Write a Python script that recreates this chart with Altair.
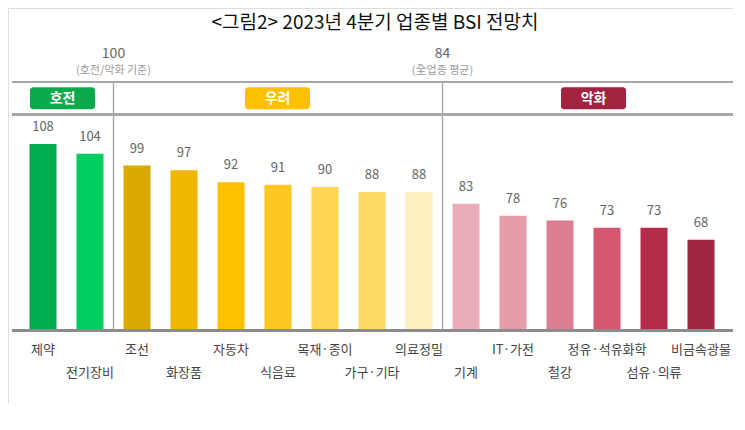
import altair as alt
import pandas as pd

categories = ["제약", "전기장비", "조선", "화장품", "자동차", "식음료", "목재·종이",
              "가구·기타", "의료정밀", "기계", "IT·가전", "철강", "정유·석유화학",
              "섬유·의류", "비금속광물"]
values = [108, 104, 99, 97, 92, 91, 90, 88, 88, 83, 78, 76, 73, 73, 68]
bar_colors = ["#00ac50", "#00cf60", "#dca900", "#f0b800", "#ffc000", "#ffc820",
              "#fed553", "#fed966", "#fff0bf", "#eaadb8", "#e59ea9", "#dd7e90",
              "#d5566f", "#b52b4a", "#9e2640"]

group_names = ["호전", "우려", "악화"]
group_colors = ["#0aaa4c", "#ffc000", "#a2233f"]

ref_values = ["100", "84"]
ref_notes = ["(호전/악화 기준)", "(全업종 평균)"]
divider_idx = [1.5, 8.5]

title_text = "<그림2> 2023년 4분기 업종별 BSI 전망치"

FONT = "Noto Sans CJK KR"

df = pd.DataFrame({
    "cat": categories,
    "value": values,
    "color": bar_colors,
    "idx": list(range(len(categories))),
})
df["row"] = df["idx"] % 2

div_df = pd.DataFrame({"pos": divider_idx, "ref": ref_values, "note": ref_notes})

xs = alt.Scale(domain=[0, 14], range=[35, 693], padding=0, nice=False, zero=False)
ys = alt.Scale(domain=[30, 110], range=[322.5, 131.3], padding=0, nice=False, zero=False)

X = alt.X("idx:Q", scale=xs, axis=None)

bars = alt.Chart(df).mark_bar(size=27).encode(
    x=X,
    y=alt.Y("value:Q", scale=ys, axis=None),
    y2=alt.Y2(datum=30),
    color=alt.Color("color:N", scale=None, legend=None),
)

val_labels = alt.Chart(df).mark_text(
    dy=-17, font=FONT, fontSize=13, color="#666666", baseline="middle"
).encode(x=X, y=alt.Y("value:Q", scale=ys, axis=None), text="value:Q")

cat_row1 = alt.Chart(df).transform_filter("datum.row == 0").mark_text(
    font=FONT, fontSize=13, color="#444444", baseline="middle"
).encode(x=X, y=alt.value(342), text="cat:N")

cat_row2 = alt.Chart(df).transform_filter("datum.row == 1").mark_text(
    font=FONT, fontSize=13, color="#444444", baseline="middle"
).encode(x=X, y=alt.value(365), text="cat:N")

# lines
line_style = dict(color="#a6a6a6", strokeWidth=1.4)
top_line = alt.Chart(df).mark_rule(**line_style).encode(
    x=alt.value(4), x2=alt.value(727), y=alt.value(74.3))
mid_line = alt.Chart(df).mark_rule(**line_style).encode(
    x=alt.value(4), x2=alt.value(727), y=alt.value(106.5))
base_line = alt.Chart(df).mark_rule(color="#8c8c8c", strokeWidth=2.4).encode(
    x=alt.value(4), x2=alt.value(727), y=alt.value(322.5))

dividers = alt.Chart(div_df).mark_rule(color="#a6a6a6", strokeWidth=1.4).encode(
    x=alt.X("pos:Q", scale=xs, axis=None),
    y=alt.value(74.3), y2=alt.value(322.5))

ref_text = alt.Chart(div_df).mark_text(
    font=FONT, fontSize=14, color="#666666", baseline="middle"
).encode(x=alt.X("pos:Q", scale=xs, axis=None), y=alt.value(46), text="ref:N")

note_text = alt.Chart(div_df).mark_text(
    font=FONT, fontSize=11, color="#9a9a9a", baseline="middle"
).encode(x=alt.X("pos:Q", scale=xs, axis=None), y=alt.value(63), text="note:N")

# badges (annotation boxes)
badge_boxes = [(22, 87), (237, 302), (553, 618)]
badges = []
for name, col, (bx1, bx2) in zip(group_names, group_colors, badge_boxes):
    bdf = pd.DataFrame({"name": [name]})
    badges.append(alt.Chart(bdf).mark_rect(color=col, cornerRadius=3).encode(
        x=alt.value(bx1), x2=alt.value(bx2), y=alt.value(79.3), y2=alt.value(101.3)))
    badges.append(alt.Chart(bdf).mark_text(
        font=FONT, fontSize=14, fontWeight="bold", color="white", baseline="middle"
    ).encode(x=alt.value((bx1 + bx2) / 2), y=alt.value(90.5), text="name:N"))

title = alt.Chart(pd.DataFrame({"t": [title_text]})).mark_text(
    font=FONT, fontSize=19, color="#111111", baseline="middle"
).encode(x=alt.value(367), y=alt.value(15), text="t:N")

chart = alt.layer(
    top_line, mid_line, dividers, bars, base_line, val_labels, cat_row1, cat_row2,
    ref_text, note_text, *badges, title
).properties(
    width=725, height=395, padding=0,
    autosize=alt.AutoSizeParams(type="none"),
).configure_view(strokeWidth=0, stroke="transparent").configure(background="white")

chart.save("out.html", embed_options={"renderer": "svg", "actions": False})
